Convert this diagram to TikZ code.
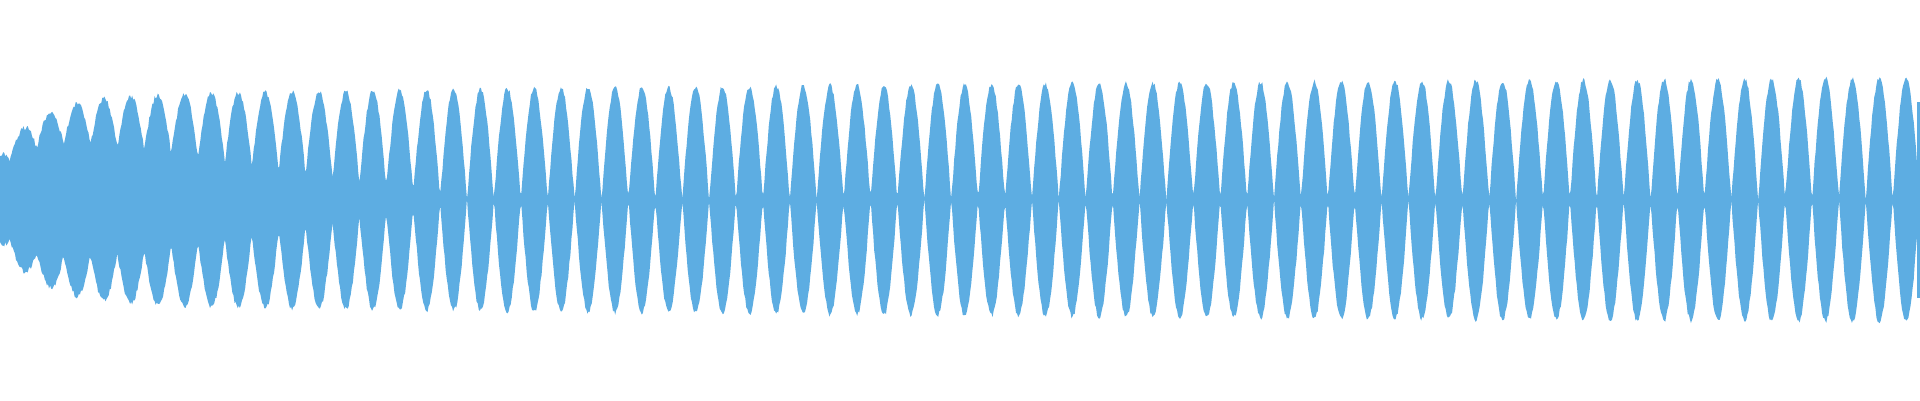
\documentclass[tikz,border=0pt]{standalone}
\definecolor{wave}{HTML}{5DADE2}
\begin{document}
\begin{tikzpicture}[x=1pt,y=1pt,
 declare function={amp(\t)=100+22*sqrt(\t/1920)-55*exp(-\t/40);
   dep(\t)=min(1,0.3+0.7*\t/460);
   env(\t)=amp(\t)*(1-dep(\t)*(1-abs(sin(6.6915*(\t-467)))));}]
\useasboundingbox (0,0) rectangle (1920,400);
\pgfmathsetseed{7}
\fill[wave] plot[domain=0:1918,samples=1800] (\x,{200+env(\x)+2.5*rand})
 -- plot[domain=1918:0,samples=1800] (\x,{200-env(\x)+2.5*rand}) -- cycle;
\fill[wave] (1917,102) rectangle (1920,298);
\end{tikzpicture}
\end{document}
